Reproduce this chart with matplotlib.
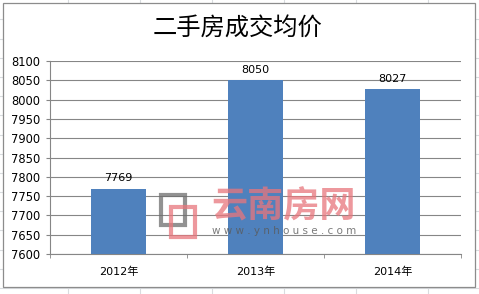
import matplotlib.pyplot as plt
from matplotlib.patches import Rectangle
from matplotlib.lines import Line2D

plt.rcParams['font.family'] = ['DejaVu Sans', 'Noto Sans CJK SC']

years = ['2012年', '2013年', '2014年']
prices = [7769, 8050, 8027]
title = '二手房成交均价'

W, H = 479, 294
fig = plt.figure(figsize=(W / 100, H / 100), dpi=100)

def px(x, y):
    # pixel coords (top-left origin) -> figure fraction
    return x / W, 1 - y / H

# spreadsheet cells behind the chart
grid_c = '#d9dcdf'
for gx in [68, 140, 212, 284, 356, 428]:
    fig.add_artist(Line2D([gx / W] * 2, [0, 1], color=grid_c, lw=0.8, zorder=0))
gy = 19.3
while gy < H:
    fig.add_artist(Line2D([0, 1], [1 - gy / H] * 2, color=grid_c, lw=0.8, zorder=0))
    gy += 19.2

# chart frame
x0, y0 = px(3, 287)
fig.add_artist(Rectangle((x0, y0), 472 / W, 284 / H, facecolor='white',
                         edgecolor='#8c8c8c', lw=0.9, zorder=1))

l, b = px(50, 254)
ax = fig.add_axes([l, b, 411 / W, 193 / H], zorder=2)
ax.set_facecolor('none')

xs = list(range(len(years)))
bars = ax.bar(xs, prices, width=0.4, color='#4f81bd', zorder=3)
ax.bar_label(bars, labels=[str(p) for p in prices], padding=4, fontsize=8)

ax.set_xlim(-0.5, 2.5)
ax.set_ylim(7600, 8100)
ax.set_yticks(range(7600, 8101, 50))
ax.tick_params(axis='y', labelsize=8.3, length=3, color='#868686', pad=4)
ax.set_xticks(xs)
ax.set_xticklabels(years)
ax.set_xticks([-0.5, 0.5, 1.5, 2.5], minor=True)
ax.tick_params(axis='x', which='major', length=0, labelsize=8, pad=9)
ax.tick_params(axis='x', which='minor', length=3, color='#868686')
ax.grid(axis='y', color='#868686', lw=0.8, zorder=0)
ax.set_axisbelow(True)
for s in ['top', 'right']:
    ax.spines[s].set_visible(False)
for s in ['left', 'bottom']:
    ax.spines[s].set_color('#868686')
    ax.spines[s].set_linewidth(0.8)

tx, ty = px(238, 29)
fig.text(tx, ty, title, family=['Noto Sans CJK SC'], fontsize=17.5,
         fontweight='medium', ha='center', va='center', zorder=3)

# watermark
pink = '#e8767c'
wx, wy = px(161, 225)
fig.add_artist(Rectangle((wx, wy), 24 / W, 30 / H, fill=False,
                         edgecolor='#6e6e6e', lw=3, alpha=0.75, zorder=4))
wx, wy = px(171, 237)
fig.add_artist(Rectangle((wx, wy), 24 / W, 30 / H, fill=False,
                         edgecolor=pink, lw=3, alpha=0.75, zorder=4))
tx, ty = px(284, 207)
fig.text(tx, ty, '云南房网', family=['Noto Sans CJK SC'], fontsize=26,
         fontweight='bold', color=pink, alpha=0.75, ha='center', va='center', zorder=5)
tx, ty = px(284, 231)
fig.text(tx, ty, 'w w w . y n h o u s e . c o m', fontsize=7.5,
         color='#5a5a5a', alpha=0.8, ha='center', va='center', zorder=5)

fig.savefig('out.png', dpi=100)
